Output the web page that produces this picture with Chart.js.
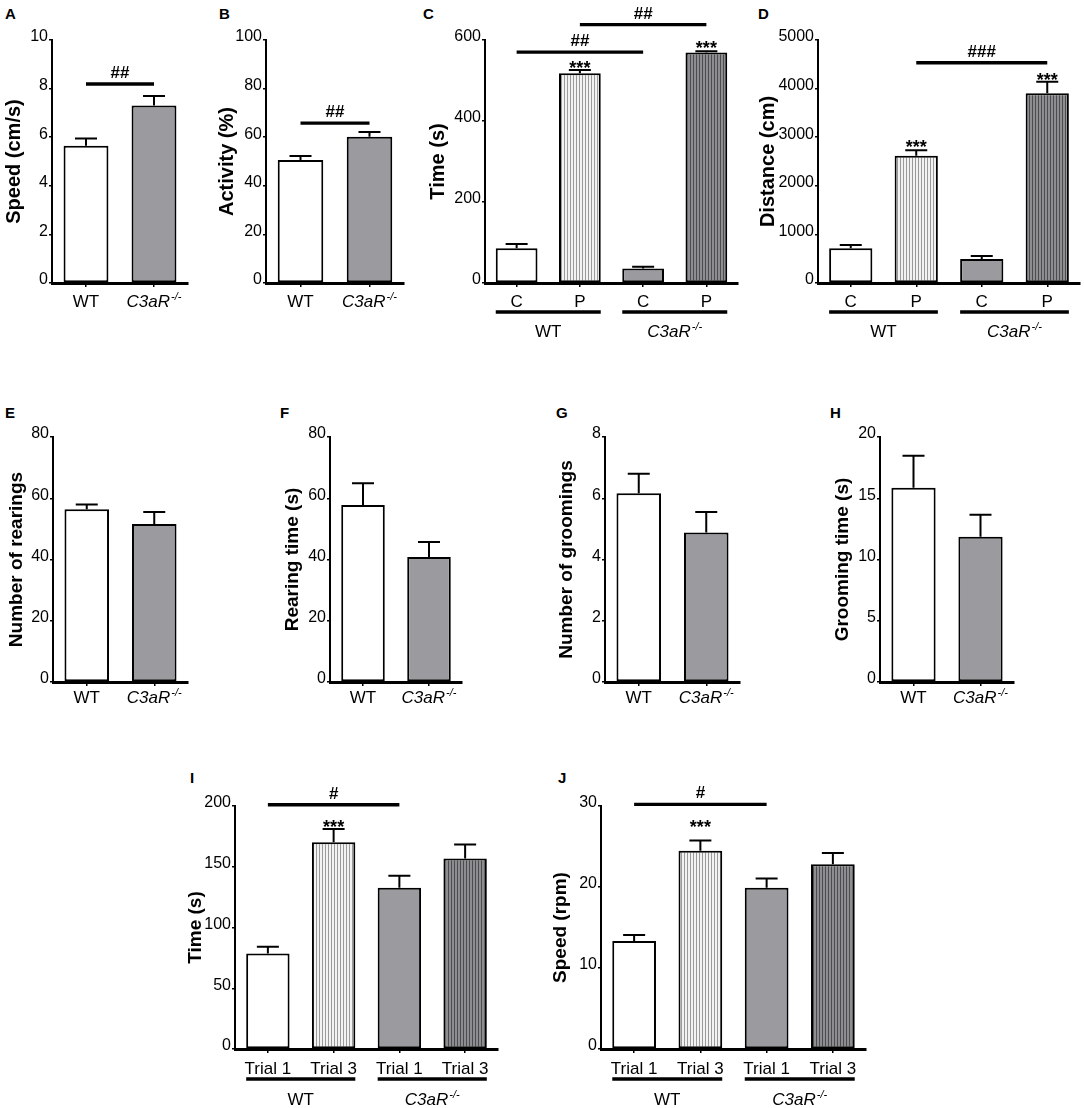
<!DOCTYPE html>
<html>
<head>
<meta charset="utf-8">
<script src="https://cdn.jsdelivr.net/npm/chart.js@4.4.1/dist/chart.umd.min.js"></script>
<style>
  body { margin: 0; background: #fff; width: 1084px; height: 1108px; position: relative; overflow: hidden; }
  canvas { position: absolute; }
  .lt { position: absolute; font: bold 15px 'Liberation Sans', Arial, sans-serif; line-height: 15px; color: #000; }
</style>
</head>
<body>
<div class="lt" style="left:5px;top:6px">A</div>
<div class="lt" style="left:219px;top:6px">B</div>
<div class="lt" style="left:423px;top:6px">C</div>
<div class="lt" style="left:758px;top:6px">D</div>
<div class="lt" style="left:5px;top:405px">E</div>
<div class="lt" style="left:280px;top:405px">F</div>
<div class="lt" style="left:556px;top:405px">G</div>
<div class="lt" style="left:830px;top:405px">H</div>
<div class="lt" style="left:190px;top:770px">I</div>
<div class="lt" style="left:558px;top:770px">J</div>
<script>
// categories
const genotypes = ['WT', 'C3aR-/-'];
const condLabels = ['C', 'P', 'C', 'P'];
const trialLabels = ['Trial 1', 'Trial 3', 'Trial 1', 'Trial 3'];
const groupNames = ['WT', 'C3aR-/-'];

// A, B  open field
const speedOF = [5.65, 7.3];
const speedOFSem = [0.3, 0.4];
const activity = [50.6, 60.2];
const activitySem = [1.7, 1.9];

// C, D  C / P conditions
const timeCP = [86, 518, 36, 569];
const timeCPSem = [10, 8, 4, 3];
const distCP = [714, 2619, 494, 3903];
const distCPSem = [68, 111, 62, 239];

// E-H
const rearings = [56.4, 51.6];
const rearingsSem = [1.6, 3.9];
const rearTime = [57.8, 40.8];
const rearTimeSem = [7.1, 4.9];
const groomings = [6.16, 4.88];
const groomingsSem = [0.64, 0.67];
const groomTime = [15.86, 11.86];
const groomTimeSem = [2.6, 1.8];

// I, J  rotarod
const rodTime = [78.5, 170.2, 132.7, 156.8];
const rodTimeSem = [5.7, 10.8, 9.8, 11.5];
const rodSpeed = [13.34, 24.46, 19.9, 22.82];
const rodSpeedSem = [0.74, 1.28, 1.16, 1.38];

const FONT = "'Liberation Sans', Arial, sans-serif";
const WHITE = '#ffffff';
const GRAY = '#9b9b9f';

function stripes(bg, line) {
  const c = document.createElement('canvas');
  c.width = 3; c.height = 4;
  const x = c.getContext('2d');
  x.fillStyle = bg; x.fillRect(0, 0, 3, 4);
  x.fillStyle = line; x.fillRect(2, 0, 1, 4);
  return x.createPattern(c, 'repeat');
}
const LIGHT = stripes('#f2f2f2', '#9a9a9a');
const DARK = stripes('#8e8e92', '#4c4c4c');

// text with optional italic "C3aR" + superscript "-/-"
function drawLabel(ctx, text, cx, base, size) {
  const m = text.match(/^(.*)(-\/-)$/);
  ctx.textBaseline = 'alphabetic';
  if (!m) {
    ctx.textAlign = 'center';
    ctx.font = size + 'px ' + FONT;
    ctx.fillText(text, cx, base);
    return;
  }
  const ss = Math.round(size * 0.62);
  ctx.font = 'italic ' + size + 'px ' + FONT;
  const w1 = ctx.measureText(m[1]).width;
  ctx.font = 'italic ' + ss + 'px ' + FONT;
  const w2 = ctx.measureText(m[2]).width;
  const x0 = cx - (w1 + w2 + 1) / 2;
  ctx.textAlign = 'left';
  ctx.font = 'italic ' + size + 'px ' + FONT;
  ctx.fillText(m[1], x0, base);
  ctx.font = 'italic ' + ss + 'px ' + FONT;
  ctx.fillText(m[2], x0 + w1 + 1, base - size * 0.42);
}

const extras = {
  id: 'extras',
  afterDatasetsDraw(chart, args, o) {
    const ctx = chart.ctx, ys = chart.scales.y;
    const vals = chart.data.datasets[0].data;
    ctx.save();
    ctx.strokeStyle = '#000';
    ctx.lineWidth = 2;
    chart.getDatasetMeta(0).data.forEach((bar, i) => {
      const top = ys.getPixelForValue(vals[i] + o.sem[i]);
      ctx.beginPath();
      ctx.moveTo(bar.x, bar.y);
      ctx.lineTo(bar.x, top);
      ctx.moveTo(bar.x - 11, top);
      ctx.lineTo(bar.x + 11, top);
      ctx.stroke();
    });
    ctx.restore();
  },
  afterDraw(chart, args, o) {
    const ctx = chart.ctx, ys = chart.scales.y, area = chart.chartArea;
    const bars = chart.getDatasetMeta(0).data;
    ctx.save();
    ctx.fillStyle = '#000';
    ctx.strokeStyle = '#000';
    // x category labels
    chart.data.labels.forEach((lab, i) => drawLabel(ctx, lab, bars[i].x, area.bottom + o.xlDy, 17));
    // significance lines
    (o.sig || []).forEach(s => {
      const y = ys.getPixelForValue(s.y);
      ctx.lineWidth = 3.4;
      ctx.beginPath();
      ctx.moveTo(bars[s.from].x, y);
      ctx.lineTo(bars[s.to].x, y);
      ctx.stroke();
      ctx.font = 'bold 17px ' + FONT;
      ctx.textAlign = 'center';
      ctx.textBaseline = 'alphabetic';
      ctx.fillText(s.text, (bars[s.from].x + bars[s.to].x) / 2, y - 6);
    });
    // asterisks
    (o.stars || []).forEach(s => {
      const y = ys.getPixelForValue(s.y);
      ctx.font = 'bold 18px ' + FONT;
      ctx.textAlign = 'center';
      ctx.textBaseline = 'alphabetic';
      ctx.fillText('***', bars[s.i].x, y + 18 * 0.58);
    });
    // group underlines
    (o.groups || []).forEach(g => {
      const a = bars[g.from], b = bars[g.to];
      const x1 = a.x - a.width / 2, x2 = b.x + b.width / 2;
      const y = area.bottom + o.ulDy;
      ctx.lineWidth = 3.6;
      ctx.beginPath();
      ctx.moveTo(x1, y);
      ctx.lineTo(x2, y);
      ctx.stroke();
      drawLabel(ctx, g.text, (x1 + x2) / 2, area.bottom + o.glDy, 17);
    });
    ctx.restore();
  }
};

const XH = 5;

function panel(p) {
  const left = p.axis - p.yW;
  const w = p.r - left + p.padR;
  const h = p.bottom - p.top;
  const cv = document.createElement('canvas');
  cv.width = w; cv.height = h;
  cv.style.left = left + 'px';
  cv.style.top = p.top + 'px';
  document.body.appendChild(cv);
  new Chart(cv, {
    type: 'bar',
    data: {
      labels: p.labels,
      datasets: [{
        data: p.values,
        backgroundColor: p.colors,
        borderColor: '#000',
        borderWidth: 2,
        borderSkipped: false,
        categoryPercentage: 1,
        barPercentage: 0.66
      }]
    },
    options: {
      responsive: false,
      animation: false,
      devicePixelRatio: 1,
      layout: { padding: { left: 0, top: p.t - p.top, right: p.padR, bottom: p.bottom - p.b - XH } },
      plugins: {
        legend: { display: false },
        tooltip: { enabled: false },
        extras: {
          sem: p.sem, sig: p.sig, stars: p.stars, groups: p.groups,
          xlDy: p.xlDy, ulDy: p.ulDy, glDy: p.glDy
        }
      },
      scales: {
        x: {
          offset: true,
          ticks: { display: false },
          grid: { display: true, drawOnChartArea: false, offset: false, tickLength: 4, color: '#000', lineWidth: 1.5 },
          border: { display: true, color: '#000', width: 3 },
          afterFit: s => { s.height = XH; }
        },
        y: {
          min: 0,
          max: p.max,
          ticks: { stepSize: p.step, color: '#000', font: { family: FONT, size: 16 }, padding: 1, labelOffset: -3,
            callback: v => String(v) },
          grid: { display: true, drawOnChartArea: false, tickLength: 3, color: '#000', lineWidth: 1.5 },
          border: { display: true, color: '#000', width: 2 },
          title: { display: true, text: p.title, color: '#000', font: { family: FONT, size: p.tSize, weight: 'bold' }, padding: { top: 2, bottom: 0 } },
          afterFit: s => { s.width = p.yW; }
        }
      }
    },
    plugins: [extras]
  });
}

const two = [WHITE, GRAY];
const four = [WHITE, LIGHT, GRAY, DARK];
const grp = [{ from: 0, to: 1, text: groupNames[0] }, { from: 2, to: 3, text: groupNames[1] }];
const row1 = { top: 0, t: 40, b: 283, bottom: 345, xlDy: 24, ulDy: 29, glDy: 54, tSize: 20 };
const row2 = { top: 400, t: 437, b: 682, bottom: 720, xlDy: 21, ulDy: 0, glDy: 0, tSize: 19 };
const row3 = { top: 760, t: 806, b: 1049, bottom: 1108, xlDy: 25, ulDy: 30, glDy: 56, tSize: 19 };

panel(Object.assign({}, row1, { labels: genotypes, values: speedOF, sem: speedOFSem, colors: two, max: 10, step: 2,
  title: 'Speed (cm/s)', axis: 52, yW: 52, r: 188, padR: 6, sig: [{ from: 0, to: 1, y: 8.19, text: '##' }] }));
panel(Object.assign({}, row1, { labels: genotypes, values: activity, sem: activitySem, colors: two, max: 100, step: 20,
  title: 'Activity (%)', axis: 266, yW: 53, r: 404, padR: 6, sig: [{ from: 0, to: 1, y: 65.8, text: '##' }] }));
panel(Object.assign({}, row1, { labels: condLabels, values: timeCP, sem: timeCPSem, colors: four, max: 600, step: 200,
  title: 'Time (s)', axis: 485, yW: 61, r: 738, padR: 8,
  sig: [{ from: 0, to: 2, y: 570, text: '##' }, { from: 1, to: 3, y: 638, text: '##' }],
  stars: [{ i: 1, y: 541 }, { i: 3, y: 591 }], groups: grp }));
panel(Object.assign({}, row1, { labels: condLabels, values: distCP, sem: distCPSem, colors: four, max: 5000, step: 1000,
  title: 'Distance (cm)', axis: 818, yW: 64, r: 1080, padR: 4,
  sig: [{ from: 1, to: 3, y: 4533, text: '###' }],
  stars: [{ i: 1, y: 2885 }, { i: 3, y: 4274 }], groups: grp }));

panel(Object.assign({}, row2, { labels: genotypes, values: rearings, sem: rearingsSem, colors: two, max: 80, step: 20,
  title: 'Number of rearings', axis: 53, yW: 50, r: 188, padR: 8 }));
panel(Object.assign({}, row2, { labels: genotypes, values: rearTime, sem: rearTimeSem, colors: two, max: 80, step: 20,
  title: 'Rearing time (s)', axis: 330, yW: 51, r: 462, padR: 8 }));
panel(Object.assign({}, row2, { labels: genotypes, values: groomings, sem: groomingsSem, colors: two, max: 8, step: 2,
  title: 'Number of groomings', axis: 605, yW: 52, r: 740, padR: 8 }));
panel(Object.assign({}, row2, { labels: genotypes, values: groomTime, sem: groomTimeSem, colors: two, max: 20, step: 5,
  title: 'Grooming time (s)', axis: 880, yW: 51, r: 1014, padR: 8 }));

panel(Object.assign({}, row3, { labels: trialLabels, values: rodTime, sem: rodTimeSem, colors: four, max: 200, step: 50,
  title: 'Time (s)', axis: 235, yW: 53, r: 498, padR: 8,
  sig: [{ from: 0, to: 2, y: 201, text: '#' }], stars: [{ i: 1, y: 186.2 }], groups: grp }));
panel(Object.assign({}, row3, { labels: trialLabels, values: rodSpeed, sem: rodSpeedSem, colors: four, max: 30, step: 10,
  title: 'Speed (rpm)', axis: 601, yW: 54, r: 866, padR: 8,
  sig: [{ from: 0, to: 2, y: 30.2, text: '#' }], stars: [{ i: 1, y: 27.9 }], groups: grp }));
</script>
</body>
</html>
